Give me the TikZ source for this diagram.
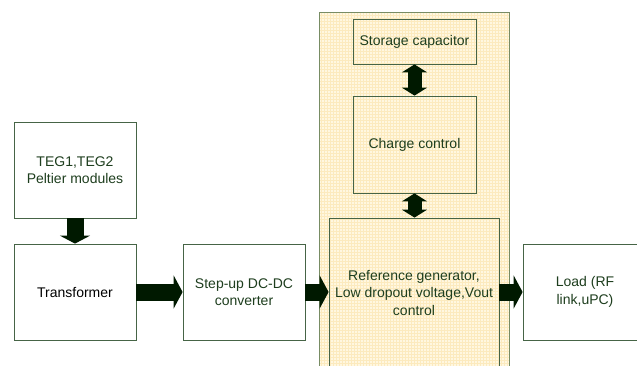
\documentclass[tikz,border=0pt]{standalone}
\usepackage{fontspec}
\setmainfont{Liberation Sans}
\usetikzlibrary{arrows.meta}
\definecolor{txtgreen}{RGB}{30,62,30}
\definecolor{boxedge}{RGB}{70,100,70}
\definecolor{panelfill}{RGB}{255,247,224}
\definecolor{panelgrid}{RGB}{252,234,190}
\definecolor{paneledge}{RGB}{120,140,100}
\tikzset{
  block/.style={draw=boxedge, line width=0.8pt, fill=white, align=center,
    text=txtgreen, inner sep=0pt, font=\fontsize{14}{17.5}\selectfont},
  panelblock/.style={block, fill=none},
  flow/.style={draw=black!90!green, line width=17pt,
    -{Triangle[width=33pt,length=9pt]}},
  duplex/.style={draw=black!90!green, line width=14pt,
    {Triangle[width=25pt,length=8pt]}-{Triangle[width=25pt,length=8pt]}},
}
\begin{document}
\begin{tikzpicture}[x=1pt,y=-1pt]
\useasboundingbox (0,0) rectangle (637,365);
\clip (0,0) rectangle (637,365);

% shaded panel holding the storage and regulation blocks
\fill[panelfill] (319.5,12.7) rectangle (509,370);
\begin{scope}
  \clip (319.5,12.7) rectangle (509,370);
  \draw[panelgrid, line width=0.5pt, step=3pt] (319,12) grid (510,371);
\end{scope}
\draw[paneledge, line width=0.9pt] (319.5,370) -- (319.5,12.7) -- (509,12.7) -- (509,370);

% blocks
\node[block, minimum width=122pt, minimum height=96pt] (teg) at (75,170)
  {TEG1,TEG2\\Peltier modules};
\node[block, minimum width=122pt, minimum height=96pt, text=black] (trans) at (75,292)
  {Transformer};
\node[block, minimum width=122pt, minimum height=96pt] (step) at (244,292)
  {Step-up DC-DC\\converter};
\node[panelblock, minimum width=170pt, minimum height=170pt] (ref) at (414,303) {};
\node[align=center, text=txtgreen, inner sep=0pt,
  font=\fontsize{14}{17.5}\selectfont] (reftext) at (414,292.7)
  {Reference generator,\\Low dropout voltage,Vout\\control};
\node[block, minimum width=124pt, minimum height=96pt] (load) at (585,292)
  {Load (RF\\link,uPC)};
\node[panelblock, minimum width=123pt, minimum height=45pt] (store) at (414.5,41.5)
  {Storage capacitor};
\node[panelblock, minimum width=123pt, minimum height=97pt] (charge) at (414.5,144.5)
  {Charge control};

% power flow arrows
\draw[flow, -{Triangle[width=30pt,length=8pt]}] (teg.south) -- (trans.north);
\draw[flow] (trans.east) -- (step.west);
\draw[flow] (step.east) -- (ref.west |- step.east);
\draw[flow] (ref.east |- load.west) -- (load.west);

% bidirectional links inside the panel
\draw[duplex] (store.south) -- (charge.north);
\draw[duplex] (charge.south) -- (charge.south |- ref.north);
\end{tikzpicture}
\end{document}
